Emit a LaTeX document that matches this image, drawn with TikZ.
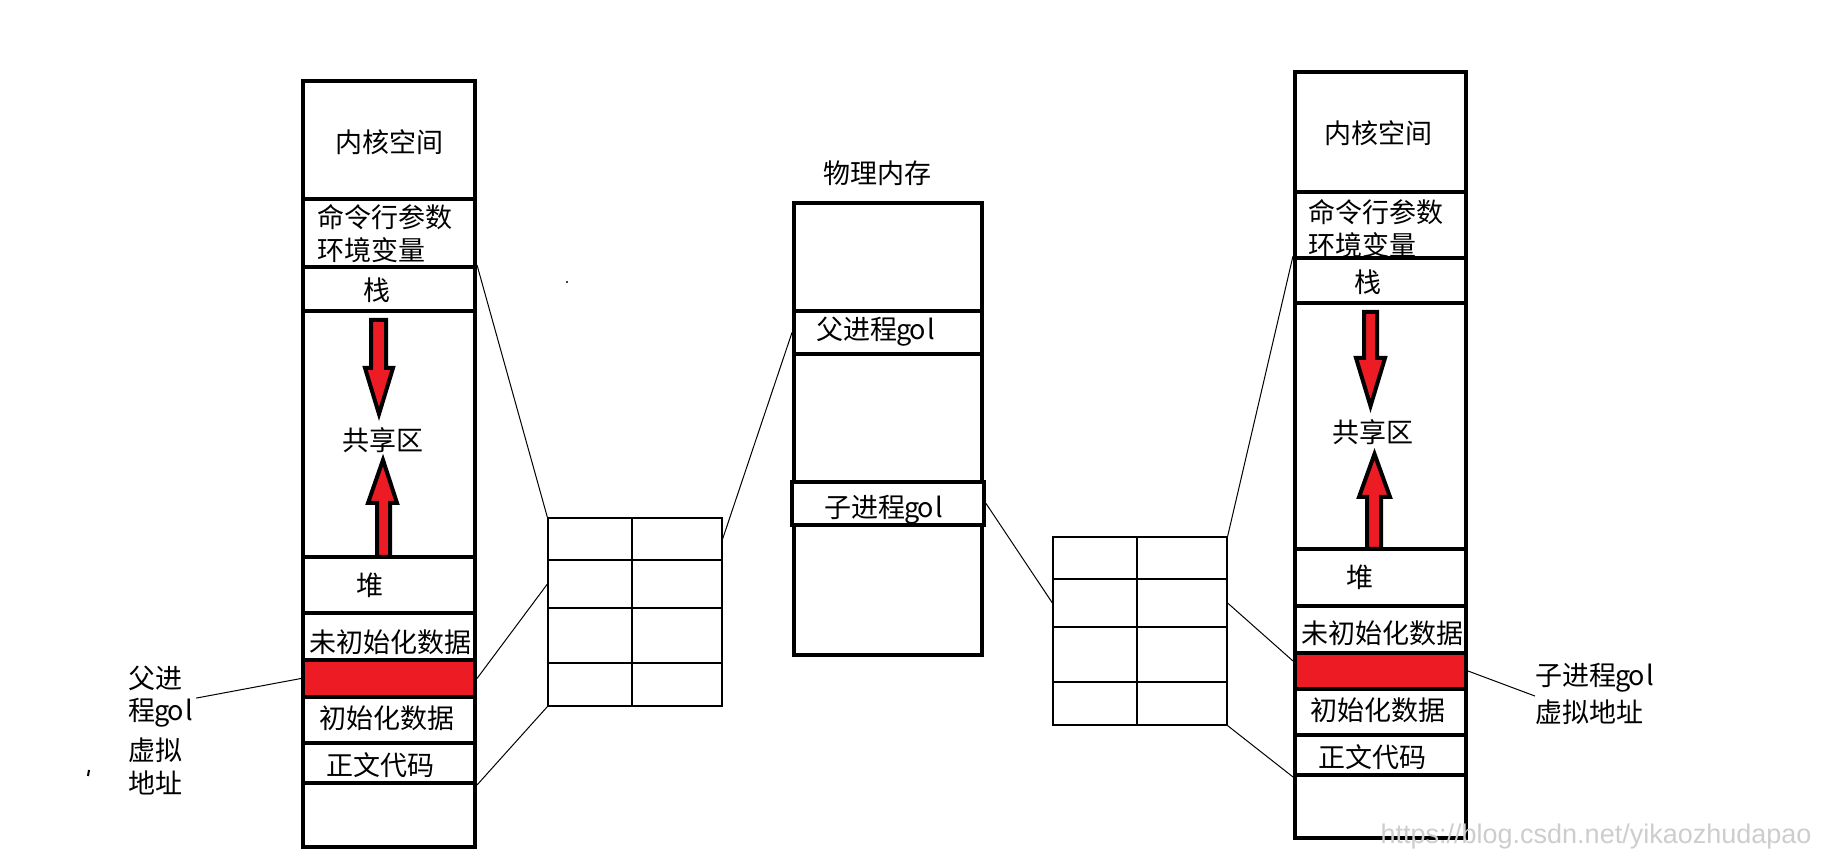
\documentclass[tikz,border=0pt]{standalone}
\usepackage{fontspec}
\setmainfont{Noto Sans CJK SC}
\newfontfamily\wmfont{Liberation Sans}
\usetikzlibrary{fit,calc}
\definecolor{pred}{RGB}{237,28,36}
\definecolor{wmgray}{RGB}{205,205,205}
\newcommand\glat[1]{\makebox[.5em][c]{#1}}
\newcommand\golx{\glat{g}\glat{o}\glat{l}}
\begin{document}
\begin{tikzpicture}[x=0.5pt,y=-0.5pt,
  seg/.style={draw, line width=2pt, inner sep=0pt},
  cell/.style={draw, line width=0.6pt, inner sep=0pt},
  txt/.style={font=\fontsize{13.5pt}{16pt}\selectfont, inner sep=0pt},
  conn/.style={line width=0.5pt},
  bigarrow/.style={fill=pred, draw, line width=2pt, miter limit=10}
]
\useasboundingbox (0,0) rectangle (1825,860);

% ---------- left column (parent process) ----------
\node[seg, fit={(303,81)(475,199)}] (LK) {};
\node[seg, fit={(303,199)(475,267)}] (LC) {};
\node[seg, fit={(303,267)(475,311)}] (LS) {};
\node[seg, fit={(303,311)(475,557)}] (LSh) {};
\node[seg, fit={(303,557)(475,613)}] (LH) {};
\node[seg, fit={(303,613)(475,660)}] (LU) {};
\node[seg, fit={(303,697)(475,743)}] (LI) {};
\node[seg, fit={(303,743)(475,783)}] (LCode) {};
\node[seg, fit={(303,783)(475,847)}] (LB) {};
\node[seg, fill=pred, fit={(303,660)(475,697)}] (LR) {};

\draw[bigarrow] (371,320) -- (386,320) -- (386,368) -- (393,368) -- (379,414) -- (365,368) -- (371,368) -- cycle;
\draw[bigarrow] (377,557) -- (377,503) -- (368,503) -- (383,460) -- (397,503) -- (390,503) -- (390,557) -- cycle;

\node[txt] (tLK) at (389,142) {内核空间};
\node[txt, anchor=west] (tLC1) at (317,217) {命令行参数};
\node[txt, anchor=west] (tLC2) at (317,250) {环境变量};
\node[txt] (tLS) at (377,290) {栈};
\node[txt] (tLSh) at (383,440) {共享区};
\node[txt] (tLH) at (370,585) {堆};
\node[txt] (tLU) at (390,642) {未初始化数据};
\node[txt] (tLI) at (387,718) {初始化数据};
\node[txt] (tLCode) at (380,765) {正文代码};

% ---------- right column (child process) ----------
\node[seg, fit={(1295,72)(1466,192)}] (RK) {};
\node[seg, fit={(1295,192)(1466,258)}] (RC) {};
\node[seg, fit={(1295,258)(1466,303)}] (RS) {};
\node[seg, fit={(1295,303)(1466,549)}] (RSh) {};
\node[seg, fit={(1295,549)(1466,606)}] (RH) {};
\node[seg, fit={(1295,606)(1466,653)}] (RU) {};
\node[seg, fit={(1295,689)(1466,735)}] (RI) {};
\node[seg, fit={(1295,735)(1466,775)}] (RCode) {};
\node[seg, fit={(1295,775)(1466,838)}] (RB) {};
\node[seg, fill=pred, fit={(1295,653)(1466,689)}] (RR) {};

\draw[bigarrow] (1364,312) -- (1377,312) -- (1377,358) -- (1385,358) -- (1370.5,406) -- (1356,358) -- (1364,358) -- cycle;
\draw[bigarrow] (1367,549) -- (1367,497) -- (1359,497) -- (1374.5,454) -- (1390,497) -- (1381,497) -- (1381,549) -- cycle;

\node[txt] (tRK) at (1378,133) {内核空间};
\node[txt, anchor=west] (tRC1) at (1308,212) {命令行参数};
\node[txt, anchor=west] (tRC2) at (1308,245) {环境变量};
\node[txt] (tRS) at (1368,282) {栈};
\node[txt] (tRSh) at (1373,432) {共享区};
\node[txt] (tRH) at (1360,577) {堆};
\node[txt] (tRU) at (1382,633) {未初始化数据};
\node[txt] (tRI) at (1378,710) {初始化数据};
\node[txt] (tRCode) at (1372,757) {正文代码};

% ---------- physical memory ----------
\node[txt] (tPM) at (877,173) {物理内存};
\node[seg, fit={(794,203)(982,311)}] (PM1) {};
\node[seg, fit={(794,354)(982,482)}] (PM2) {};
\node[seg, fit={(794,525)(982,655)}] (PM3) {};
\node[seg, fit={(794,311)(982,354)}] (PF) {};
\node[seg, fit={(792,482)(984,525)}] (PZ) {};
\node[txt] (tPF) at (877,332) {父进程\golx};
\node[txt] (tPZ) at (885,510) {子进程\golx};

% ---------- page tables ----------
\foreach \r/\ya/\yb in {1/518/560,2/560/608,3/608/663,4/663/706}{
  \node[cell, fit={(548,\ya)(632,\yb)}] (LTa\r) {};
  \node[cell, fit={(632,\ya)(722,\yb)}] (LTb\r) {};
}
\foreach \r/\ya/\yb in {1/537/579,2/579/627,3/627/682,4/682/725}{
  \node[cell, fit={(1053,\ya)(1137,\yb)}] (RTa\r) {};
  \node[cell, fit={(1137,\ya)(1227,\yb)}] (RTb\r) {};
}

% ---------- labels ----------
\node[txt, anchor=west] (Llab1) at (128,678) {父进};
\node[txt, anchor=west] (Llab2) at (128,713) {程\golx};
\node[txt, anchor=west] (Llab3) at (128,750) {虚拟};
\node[txt, anchor=west] (Llab4) at (128,783) {地址};
\node[txt, anchor=west] (Rlab1) at (1535,678) {子进程\golx};
\node[txt, anchor=west] (Rlab2) at (1535,712) {虚拟地址};

% ---------- connectors ----------
\draw[conn] (LS.north east) -- (LTa1.north west);
\draw[conn] (LR.east) -- (LTa2.west);
\draw[conn] (LCode.south east) -- (LTa4.south west);
\draw[conn] (LTb1.east) -- (PF.west);
\draw[conn] (PZ.east) -- (RTa2.west);
\draw[conn] (RTb1.north east) -- (RS.north west);
\draw[conn] (RTb2.east) -- ($(RR.north west)!0.25!(RR.south west)$);
\draw[conn] (RTb4.south east) -- (RCode.south west);
\draw[conn] (RR.east) -- ($(Rlab1.south west)!0.5!(Rlab2.north west)$);
\draw[conn] (LR.west) -- (Llab2.north east);

% stray marks
\draw[line width=1pt] (89,770) -- (88,776);
\fill (567,282) circle (1.2);

% watermark
\node[font=\wmfont\fontsize{13.5pt}{16pt}\selectfont, text=wmgray, inner sep=0pt] (wm) at (1596,837) {https://blog.csdn.net/yikaozhudapao};
\end{tikzpicture}
\end{document}
